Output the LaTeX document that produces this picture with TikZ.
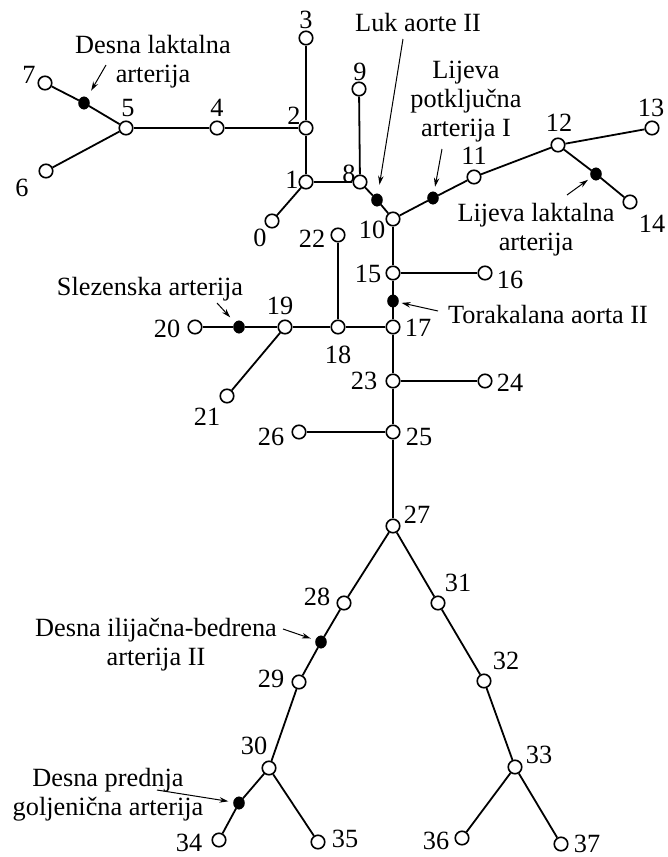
\documentclass[tikz,border=0pt]{standalone}
\usepackage{fontspec}
\setmainfont{Liberation Serif}
\usetikzlibrary{arrows.meta,shapes.geometric}
\begin{document}
\begin{tikzpicture}[x=1pt,y=-1pt,
  vtx/.style={circle,draw,fill=white,minimum size=13.5pt,inner sep=0pt,line width=1.6pt},
  blk/.style={ellipse,fill=black,draw=black,line width=0.4pt,minimum width=11pt,minimum height=12.5pt,inner sep=0pt},
  num/.style={font=\fontsize{26.3}{29}\selectfont,inner sep=0pt},
  txt/.style={font=\fontsize{26.3}{29}\selectfont,align=center,inner sep=0pt,anchor=base},
  edg/.style={line width=1.8pt},
  ptr/.style={line width=1pt,-{Stealth[length=9pt,width=5.5pt]}}]
\useasboundingbox[fill=white] (0,0) rectangle (667,857);
% vertices
\node[vtx] (n0) at (272,221) {};
\node[vtx] (n1) at (306,182) {};
\node[vtx] (n2) at (306,128) {};
\node[vtx] (n3) at (306,38) {};
\node[vtx] (n4) at (217,128) {};
\node[vtx] (n5) at (126,128) {};
\node[vtx] (n6) at (46,171) {};
\node[vtx] (n7) at (45,83) {};
\node[vtx] (n8) at (360,182) {};
\node[vtx] (n9) at (359,89) {};
\node[vtx] (n10) at (393,219) {};
\node[vtx] (n11) at (474,177) {};
\node[vtx] (n12) at (558,145) {};
\node[vtx] (n13) at (652,128) {};
\node[vtx] (n14) at (630,202) {};
\node[vtx] (n15) at (393,273) {};
\node[vtx] (n16) at (485,273) {};
\node[vtx] (n17) at (393,327) {};
\node[vtx] (n18) at (338,327) {};
\node[vtx] (n19) at (285,327) {};
\node[vtx] (n20) at (195,327) {};
\node[vtx] (n21) at (227,396) {};
\node[vtx] (n22) at (338,235) {};
\node[vtx] (n23) at (393,381) {};
\node[vtx] (n24) at (485,381) {};
\node[vtx] (n25) at (393,432) {};
\node[vtx] (n26) at (299,432) {};
\node[vtx] (n27) at (393,526) {};
\node[vtx] (n28) at (344,603) {};
\node[vtx] (n29) at (299,682) {};
\node[vtx] (n30) at (269,768) {};
\node[vtx] (n31) at (438,603) {};
\node[vtx] (n32) at (484,681) {};
\node[vtx] (n33) at (515,767) {};
\node[vtx] (n34) at (219,840) {};
\node[vtx] (n35) at (318,842) {};
\node[vtx] (n36) at (462,838) {};
\node[vtx] (n37) at (561,844) {};
% black points
\node[blk] (d1) at (84,103) {};
\node[blk] (dA) at (377,200) {};
\node[blk] (dB) at (433,198) {};
\node[blk] (dC) at (596,174) {};
\node[blk] (dD) at (393,301) {};
\node[blk] (dE) at (239,327) {};
\node[blk] (dF) at (321,642) {};
\node[blk] (dG) at (239,803) {};
% edges
\draw[edg] (n0) -- (n1);
\draw[edg] (n1) -- (n2);
\draw[edg] (n2) -- (n3);
\draw[edg] (n2) -- (n4);
\draw[edg] (n4) -- (n5);
\draw[edg] (n5) -- (n6);
\draw[edg] (n5) -- (d1) -- (n7);
\draw[edg] (n1) -- (n8);
\draw[edg] (n8) -- (n9);
\draw[edg] (n8) -- (dA) -- (n10);
\draw[edg] (n10) -- (dB) -- (n11);
\draw[edg] (n11) -- (n12);
\draw[edg] (n12) -- (n13);
\draw[edg] (n12) -- (dC) -- (n14);
\draw[edg] (n10) -- (n15);
\draw[edg] (n15) -- (n16);
\draw[edg] (n15) -- (dD) -- (n17);
\draw[edg] (n17) -- (n18);
\draw[edg] (n18) -- (n22);
\draw[edg] (n18) -- (n19);
\draw[edg] (n19) -- (dE) -- (n20);
\draw[edg] (n19) -- (n21);
\draw[edg] (n17) -- (n23);
\draw[edg] (n23) -- (n24);
\draw[edg] (n23) -- (n25);
\draw[edg] (n25) -- (n26);
\draw[edg] (n25) -- (n27);
\draw[edg] (n27) -- (n28);
\draw[edg] (n28) -- (dF) -- (n29);
\draw[edg] (n29) -- (n30);
\draw[edg] (n30) -- (dG) -- (n34);
\draw[edg] (n30) -- (n35);
\draw[edg] (n27) -- (n31);
\draw[edg] (n31) -- (n32);
\draw[edg] (n32) -- (n33);
\draw[edg] (n33) -- (n36);
\draw[edg] (n33) -- (n37);
% numbers
\node[num] (t0) at (260,238) {0};
\node[num] (t1) at (292,180) {1};
\node[num] (t2) at (294,116) {2};
\node[num] (t3) at (306,20) {3};
\node[num] (t4) at (217,108) {4};
\node[num] (t5) at (128,108) {5};
\node[num] (t6) at (22,188) {6};
\node[num] (t7) at (29,75) {7};
\node[num] (t8) at (349,174) {8};
\node[num] (t9) at (360,72) {9};
\node[num] (t10) at (372,230) {10};
\node[num] (t11) at (474,156) {11};
\node[num] (t12) at (559,123) {12};
\node[num] (t13) at (651,108) {13};
\node[num] (t14) at (652,224) {14};
\node[num] (t15) at (368,274) {15};
\node[num] (t16) at (510,280) {16};
\node[num] (t17) at (418,328) {17};
\node[num] (t18) at (338,355) {18};
\node[num] (t19) at (280,306) {19};
\node[num] (t20) at (167,329) {20};
\node[num] (t21) at (207,417) {21};
\node[num] (t22) at (312,239) {22};
\node[num] (t23) at (364,381) {23};
\node[num] (t24) at (510,383) {24};
\node[num] (t25) at (419,437) {25};
\node[num] (t26) at (271,437) {26};
\node[num] (t27) at (417,515) {27};
\node[num] (t28) at (317,597) {28};
\node[num] (t29) at (271,679) {29};
\node[num] (t30) at (254,746) {30};
\node[num] (t31) at (458,583) {31};
\node[num] (t32) at (506,661) {32};
\node[num] (t33) at (539,755) {33};
\node[num] (t34) at (189,843) {34};
\node[num] (t35) at (345,839) {35};
\node[num] (t36) at (436,841) {36};
\node[num] (t37) at (587,844) {37};
% annotations (base anchor = baseline of the last line)
\node[txt] (L1) at (153,82) {Desna laktalna\\arterija};
\node[txt] (L2) at (418,31) {Luk aorte II};
\node[txt] (L3) at (466,136) {Lijeva\\potključna\\arterija I};
\node[txt] (L4) at (536,250) {Lijeva laktalna\\arterija};
\node[txt] (L5) at (150,295) {Slezenska arterija};
\node[txt] (L6) at (548,323) {Torakalana aorta II};
\node[txt] (L7) at (156,665) {Desna ilijačna-bedrena\\arterija II};
\node[txt] (L8) at (108,815) {Desna prednja\\goljenična arterija};
% pointers
\coordinate (p1) at (106,65);
\coordinate (p2) at (403,39);
\coordinate (p3) at (442,149);
\coordinate (p4) at (567,195);
\coordinate (p5) at (438,311);
\coordinate (p6) at (217,303);
\coordinate (p7) at (283,629);
\coordinate (p8) at (157,790);
\draw[ptr,shorten >=8pt] (p1) -- (d1);
\draw[ptr,shorten >=9pt] (p2) -- (dA);
\draw[ptr,shorten >=5pt] (p3) -- (dB);
\draw[ptr,shorten >=4pt] (p4) -- (dC);
\draw[ptr,shorten >=3pt] (p5) -- (dD);
\draw[ptr,shorten >=7pt] (p6) -- (dE);
\draw[ptr,shorten >=5pt] (p7) -- (dF);
\draw[ptr,shorten >=5pt] (p8) -- (dG);
\end{tikzpicture}
\end{document}
